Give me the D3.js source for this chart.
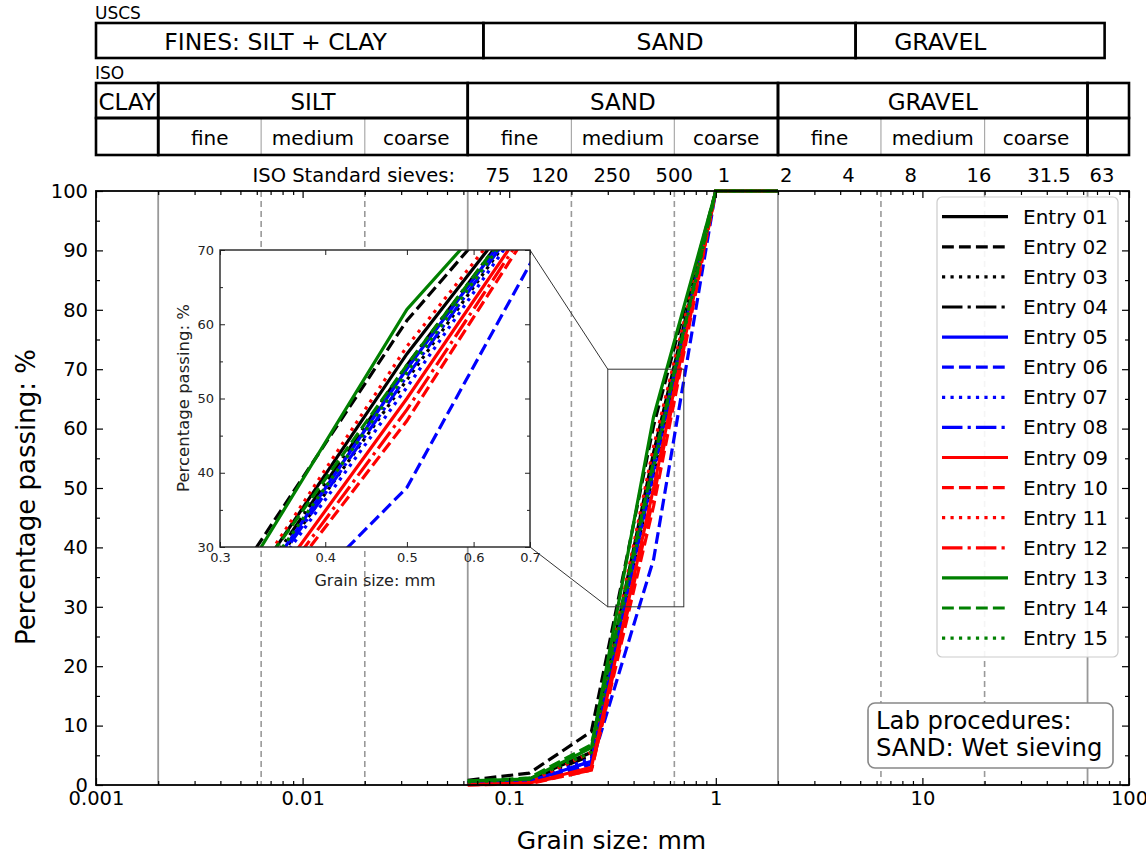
<!DOCTYPE html>
<html>
<head>
<meta charset="utf-8">
<script src="https://cdn.jsdelivr.net/npm/d3@7"></script>
<style>
body { margin: 0; background: #fff; }
svg { font-family: 'DejaVu Sans', sans-serif; }
</style>
</head>
<body>
<div id="chart"></div>
<script>
// sieve sizes (mm) used for every entry
const sieves = [0.063, 0.125, 0.25, 0.5, 1, 2];

// percentage passing, one array per entry
const passing01 = [0.4, 1.0, 5.5, 56, 100, 100];
const passing02 = [0.8, 2.0, 9.0, 60.5, 100, 100];
const passing03 = [0.4, 1.0, 5.0, 52.5, 100, 100];
const passing04 = [0.3, 0.8, 5.0, 54.5, 100, 100];
const passing05 = [0.3, 0.6, 4.0, 54, 100, 100];
const passing06 = [0.2, 0.4, 3.5, 38, 100, 100];
const passing07 = [0.3, 0.6, 4.5, 51.5, 100, 100];
const passing08 = [0.3, 0.6, 4.0, 53, 100, 100];
const passing09 = [0.1, 0.3, 3.0, 50, 100, 100];
const passing10 = [0.0, 0.2, 2.5, 47, 100, 100];
const passing11 = [0.2, 0.5, 5.5, 57, 100, 100];
const passing12 = [0.0, 0.3, 2.5, 48.5, 100, 100];
const passing13 = [0.7, 1.0, 6.3, 62, 100, 100];
const passing14 = [0.6, 1.2, 6.8, 54.5, 100, 100];
const passing15 = [0.5, 1.0, 5.5, 53.5, 100, 100];

const entryNames = ['Entry 01', 'Entry 02', 'Entry 03', 'Entry 04', 'Entry 05', 'Entry 06', 'Entry 07', 'Entry 08',
    'Entry 09', 'Entry 10', 'Entry 11', 'Entry 12', 'Entry 13', 'Entry 14', 'Entry 15'];
const entryColors = ['black', 'black', 'black', 'black', 'blue', 'blue', 'blue', 'blue',
    'red', 'red', 'red', 'red', 'green', 'green', 'green'];
const entryStyles = ['solid', 'dashed', 'dotted', 'dashdot', 'solid', 'dashed', 'dotted', 'dashdot',
    'solid', 'dashed', 'dotted', 'dashdot', 'solid', 'dashed', 'dotted'];
const passing = [passing01, passing02, passing03, passing04, passing05, passing06, passing07, passing08,
    passing09, passing10, passing11, passing12, passing13, passing14, passing15];

// classification tables
const uscsBounds = [0.001, 0.075, 4.75, 76.2];
const uscsNames = ['FINES: SILT + CLAY', 'SAND', 'GRAVEL'];
const uscsLabelAt = [0.0074, 0.6, 12.2];
const isoBounds = [0.001, 0.002, 0.063, 2, 63, 100];
const isoNames = ['CLAY', 'SILT', 'SAND', 'GRAVEL', ''];
const isoSubBounds = [0.002, 0.0063, 0.02, 0.063, 0.2, 0.63, 2, 6.3, 20, 63];
const isoSubNames = ['fine', 'medium', 'coarse'];
const sieveSizes = [0.075, 0.125, 0.25, 0.5, 1, 2, 4, 8, 16, 31.5, 63];
const sieveLabels = ['75', '120', '250', '500', '1', '2', '4', '8', '16', '31.5', '63'];

// vertical reference lines
const gridSolid = [0.002, 0.063, 2, 63];
const gridDashed = [0.0063, 0.02, 0.2, 0.63, 6.3, 20];

const xTicks = [0.001, 0.01, 0.1, 1, 10, 100];
const xTickLabels = ['0.001', '0.01', '0.1', '1', '10', '100'];
const zoomX = [0.3, 0.7];
const zoomY = [30, 70];
const zoomXTicks = [0.3, 0.4, 0.5, 0.6, 0.7];
const boxLines = ['Lab procedures:', 'SAND: Wet sieving'];

const W = 1146, H = 855;
const svg = d3.select('#chart').append('svg').attr('width', W).attr('height', H);

const x = d3.scaleLog().domain([0.001, 100]).range([96, 1129]);
const y = d3.scaleLinear().domain([0, 100]).range([785, 191]);

const lw = 3.2;
const dashes = {
    solid: null,
    dashed: [3.7 * lw, 1.6 * lw].join(','),
    dotted: [1 * lw, 1.65 * lw].join(','),
    dashdot: [6.4 * lw, 1.6 * lw, 1 * lw, 1.6 * lw].join(',')
};

// ---------- tables on top ----------
const tbl = svg.append('g');
tbl.append('text').attr('x', 95).attr('y', 19).style('font-size', '17px').text('USCS');
tbl.append('text').attr('x', 95).attr('y', 79).style('font-size', '17px').text('ISO');

uscsNames.forEach((n, i) => {
    tbl.append('rect')
        .attr('x', x(uscsBounds[i])).attr('y', 23)
        .attr('width', x(uscsBounds[i + 1]) - x(uscsBounds[i])).attr('height', 35)
        .attr('fill', 'none').attr('stroke', '#000').attr('stroke-width', 2.6);
    tbl.append('text')
        .attr('x', x(uscsLabelAt[i])).attr('y', 42)
        .attr('text-anchor', 'middle').attr('dominant-baseline', 'central')
        .style('font-size', '23.5px').text(n);
});

// ISO sub row thin dividers
isoSubBounds.forEach((b) => {
    if (isoBounds.indexOf(b) >= 0) return;
    tbl.append('line')
        .attr('x1', x(b)).attr('x2', x(b)).attr('y1', 118).attr('y2', 155)
        .attr('stroke', '#aaa').attr('stroke-width', 1.2);
});
for (let i = 0; i < isoSubBounds.length - 1; i++) {
    const cx = (x(isoSubBounds[i]) + x(isoSubBounds[i + 1])) / 2;
    tbl.append('text')
        .attr('x', cx).attr('y', 138)
        .attr('text-anchor', 'middle').attr('dominant-baseline', 'central')
        .style('font-size', '20px').text(isoSubNames[i % 3]);
}
isoNames.forEach((n, i) => {
    tbl.append('rect')
        .attr('x', x(isoBounds[i])).attr('y', 83)
        .attr('width', x(isoBounds[i + 1]) - x(isoBounds[i])).attr('height', 35)
        .attr('fill', 'none').attr('stroke', '#000').attr('stroke-width', 2.6);
    tbl.append('rect')
        .attr('x', x(isoBounds[i])).attr('y', 118)
        .attr('width', x(isoBounds[i + 1]) - x(isoBounds[i])).attr('height', 37)
        .attr('fill', 'none').attr('stroke', '#000').attr('stroke-width', 2.6);
    tbl.append('text')
        .attr('x', (x(isoBounds[i]) + x(isoBounds[i + 1])) / 2).attr('y', 102)
        .attr('text-anchor', 'middle').attr('dominant-baseline', 'central')
        .style('font-size', '23px').text(n);
});

tbl.append('text').attr('x', 455).attr('y', 182).attr('text-anchor', 'end')
    .style('font-size', '19.5px').text('ISO Standard sieves:');
sieveSizes.forEach((s, i) => {
    tbl.append('text').attr('x', x(s) + 2).attr('y', 182)
        .style('font-size', '19.5px').text(sieveLabels[i]);
});

// ---------- main plot ----------
const main = svg.append('g');

main.selectAll('line.gsolid').data(gridSolid).enter().append('line')
    .attr('class', 'gsolid')
    .attr('x1', (d) => x(d)).attr('x2', (d) => x(d))
    .attr('y1', y(100)).attr('y2', y(0))
    .attr('stroke', '#999').attr('stroke-width', 1.8);
main.selectAll('line.gdash').data(gridDashed).enter().append('line')
    .attr('class', 'gdash')
    .attr('x1', (d) => x(d)).attr('x2', (d) => x(d))
    .attr('y1', y(100)).attr('y2', y(0))
    .attr('stroke', '#999').attr('stroke-width', 1.6).attr('stroke-dasharray', '6,4');

const series = passing.map((vals, i) => ({
    name: entryNames[i],
    color: entryColors[i],
    style: entryStyles[i],
    points: sieves.map((s, j) => [s, vals[j]])
}));

const line = d3.line().x((d) => x(d[0])).y((d) => y(d[1]));
main.selectAll('path.curve').data(series).enter().append('path')
    .attr('class', 'curve')
    .attr('d', (d) => line(d.points))
    .attr('fill', 'none')
    .attr('stroke', (d) => d.color)
    .attr('stroke-width', lw)
    .attr('stroke-dasharray', (d) => dashes[d.style]);

// axes, ticks pointing inward
function minorLog () {
    const out = [];
    for (let e = -3; e < 2; e++) {
        for (let m = 2; m < 10; m++) out.push(m * Math.pow(10, e));
    }
    return out;
}
const axBottom = main.append('g').attr('transform', `translate(0,${y(0)})`)
    .call(d3.axisBottom(x).tickValues(xTicks).tickSize(-7).tickPadding(8)
        .tickFormat((d, i) => xTickLabels[i]));
main.append('g').attr('transform', `translate(0,${y(0)})`)
    .call(d3.axisBottom(x).tickValues(minorLog()).tickSize(-4).tickFormat(''));
main.append('g').attr('transform', `translate(0,${y(100)})`)
    .call(d3.axisTop(x).tickValues(xTicks).tickSize(-7).tickFormat(''));
main.append('g').attr('transform', `translate(0,${y(100)})`)
    .call(d3.axisTop(x).tickValues(minorLog()).tickSize(-4).tickFormat(''));
main.append('g').attr('transform', `translate(${x(0.001)},0)`)
    .call(d3.axisLeft(y).tickValues(d3.range(0, 101, 10)).tickSize(-7).tickPadding(8));
main.append('g').attr('transform', `translate(${x(0.001)},0)`)
    .call(d3.axisLeft(y).tickValues(d3.range(5, 100, 10)).tickSize(-4).tickFormat(''));
main.append('g').attr('transform', `translate(${x(100)},0)`)
    .call(d3.axisRight(y).tickValues(d3.range(0, 101, 10)).tickSize(-7).tickFormat(''));
main.append('g').attr('transform', `translate(${x(100)},0)`)
    .call(d3.axisRight(y).tickValues(d3.range(5, 100, 10)).tickSize(-4).tickFormat(''));
main.selectAll('.domain').remove();
main.selectAll('.tick line').attr('stroke', '#000').attr('stroke-width', 1.2);
main.selectAll('.tick text').style('font-size', '19.5px').style('font-family', 'DejaVu Sans').attr('fill', '#000');
axBottom.selectAll('.tick text').attr('dy', '0.6em');

main.append('rect')
    .attr('x', x(0.001)).attr('y', y(100))
    .attr('width', x(100) - x(0.001)).attr('height', y(0) - y(100))
    .attr('fill', 'none').attr('stroke', '#000').attr('stroke-width', 1.8);

main.append('text')
    .attr('x', (x(0.001) + x(100)) / 2 - 1).attr('y', 849)
    .attr('text-anchor', 'middle').style('font-size', '25px').text('Grain size: mm');
main.append('text')
    .attr('transform', 'translate(26,497) rotate(-90)')
    .attr('text-anchor', 'middle').attr('dominant-baseline', 'central')
    .style('font-size', '26px').text('Percentage passing: %');

// legend
const lg = main.append('g');
lg.append('rect').attr('x', 937).attr('y', 197).attr('width', 181).attr('height', 460)
    .attr('rx', 5).attr('fill', '#fff').attr('fill-opacity', 0.9)
    .attr('stroke', '#ccc').attr('stroke-width', 1.2);
series.forEach((s, i) => {
    const ry = 216.7 + i * 30.1;
    lg.append('line').attr('x1', 942).attr('x2', 1008).attr('y1', ry).attr('y2', ry)
        .attr('stroke', s.color).attr('stroke-width', lw)
        .attr('stroke-dasharray', dashes[s.style]);
    lg.append('text').attr('x', 1023).attr('y', ry).attr('dominant-baseline', 'central')
        .style('font-size', '20px').text(s.name);
});

// text box
const tb = main.append('g');
tb.append('rect').attr('x', 868).attr('y', 703).attr('width', 245).attr('height', 65)
    .attr('rx', 7).attr('fill', '#fff').attr('stroke', '#888').attr('stroke-width', 1.6);
boxLines.forEach((t, i) => {
    tb.append('text').attr('x', 876).attr('y', 729 + i * 27)
        .style('font-size', '24.3px').text(t);
});

// ---------- inset (log x, linear y) ----------
const xi = d3.scaleLog().domain(zoomX).range([220, 530]);
const yi = d3.scaleLinear().domain(zoomY).range([547, 250]);

// zoom rectangle and connectors
main.append('rect')
    .attr('x', x(zoomX[0])).attr('y', y(zoomY[1]))
    .attr('width', x(zoomX[1]) - x(zoomX[0])).attr('height', y(zoomY[0]) - y(zoomY[1]))
    .attr('fill', 'none').attr('stroke', '#333').attr('stroke-width', 1);
main.append('line')
    .attr('x1', xi(zoomX[1])).attr('y1', yi(zoomY[1]))
    .attr('x2', x(zoomX[0])).attr('y2', y(zoomY[1]))
    .attr('stroke', '#333').attr('stroke-width', 1);
main.append('line')
    .attr('x1', xi(zoomX[1])).attr('y1', yi(zoomY[0]))
    .attr('x2', x(zoomX[0])).attr('y2', y(zoomY[0]))
    .attr('stroke', '#333').attr('stroke-width', 1);

const ins = svg.append('g');
ins.append('rect').attr('x', 220).attr('y', 250).attr('width', 310).attr('height', 297).attr('fill', '#fff');
svg.append('defs').append('clipPath').attr('id', 'insclip')
    .append('rect').attr('x', 220).attr('y', 250).attr('width', 310).attr('height', 297);

const lineI = d3.line().x((d) => xi(d[0])).y((d) => yi(d[1]));
ins.append('g').attr('clip-path', 'url(#insclip)')
    .selectAll('path').data(series).enter().append('path')
    .attr('d', (d) => lineI(d.points))
    .attr('fill', 'none')
    .attr('stroke', (d) => d.color)
    .attr('stroke-width', lw)
    .attr('stroke-dasharray', (d) => dashes[d.style]);

const yiMaj = d3.range(30, 71, 10);
const yiMin = d3.range(35, 70, 10);
ins.append('g').attr('transform', 'translate(0,547)')
    .call(d3.axisBottom(xi).tickValues(zoomXTicks).tickSize(-5).tickPadding(6).tickFormat(d3.format('.1f')));
ins.append('g').attr('transform', 'translate(0,250)')
    .call(d3.axisTop(xi).tickValues(zoomXTicks).tickSize(-5).tickFormat(''));
ins.append('g').attr('transform', 'translate(220,0)')
    .call(d3.axisLeft(yi).tickValues(yiMaj).tickSize(-5).tickPadding(6));
ins.append('g').attr('transform', 'translate(220,0)')
    .call(d3.axisLeft(yi).tickValues(yiMin).tickSize(-3).tickFormat(''));
ins.append('g').attr('transform', 'translate(530,0)')
    .call(d3.axisRight(yi).tickValues(yiMaj).tickSize(-5).tickFormat(''));
ins.append('g').attr('transform', 'translate(530,0)')
    .call(d3.axisRight(yi).tickValues(yiMin).tickSize(-3).tickFormat(''));
ins.selectAll('.domain').remove();
ins.selectAll('.tick line').attr('stroke', '#222').attr('stroke-width', 1);
ins.selectAll('.tick text').style('font-size', '13px').style('font-family', 'DejaVu Sans').attr('fill', '#222');

ins.append('rect').attr('x', 220).attr('y', 250).attr('width', 310).attr('height', 297)
    .attr('fill', 'none').attr('stroke', '#222').attr('stroke-width', 1.4);
ins.append('text').attr('x', 375).attr('y', 586).attr('text-anchor', 'middle')
    .style('font-size', '16px').attr('fill', '#222').text('Grain size: mm');
ins.append('text').attr('transform', 'translate(183,398) rotate(-90)')
    .attr('text-anchor', 'middle').attr('dominant-baseline', 'central')
    .style('font-size', '16.5px').attr('fill', '#222').text('Percentage passing: %');
</script>
</body>
</html>
